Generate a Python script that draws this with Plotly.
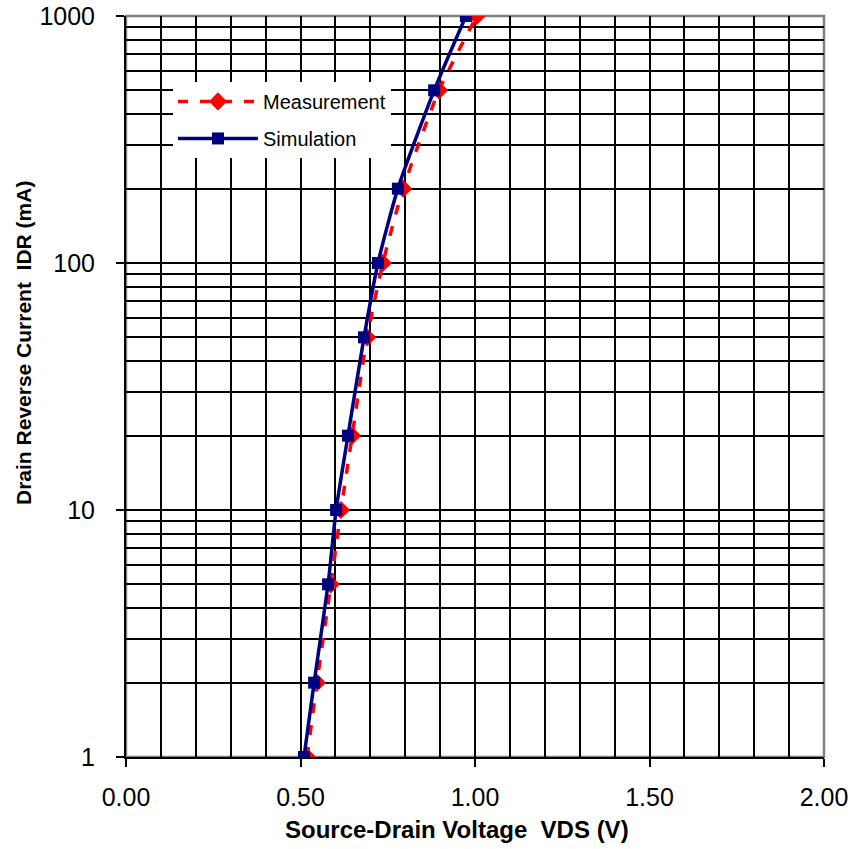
import plotly.graph_objects as go

# Data
current_ma = [1, 2, 5, 10, 20, 50, 100, 200, 500, 1000]
vds_meas = [0.519, 0.547, 0.587, 0.616, 0.648, 0.691, 0.736, 0.794, 0.897, 1.005]
vds_sim = [0.510, 0.539, 0.579, 0.602, 0.636, 0.682, 0.722, 0.779, 0.883, 0.974]

x_tickvals = [0, 0.5, 1.0, 1.5, 2.0]
y_tickvals = [1, 10, 100, 1000]
y_ticktext = ["1", "10", "100", "1000"]
y_minor = [m * d for d in (1, 10, 100) for m in range(2, 10)]

FONT = "Arial, Liberation Sans, sans-serif"

fig = go.Figure()
fig.add_trace(go.Scatter(
    x=vds_meas, y=current_ma, name="Measurement", mode="lines+markers",
    line=dict(color="#ff0000", width=3.5, dash="10px,12px", shape="spline", smoothing=0.6),
    marker=dict(symbol="diamond", size=14, color="#ff0000"),
    legendgroup="a",
))
fig.add_trace(go.Scatter(
    x=vds_sim, y=current_ma, name="Simulation", mode="lines+markers",
    line=dict(color="#000080", width=3.5, shape="spline", smoothing=0.6),
    marker=dict(symbol="square", size=12, color="#000080"),
    legendgroup="b",
))

grid = dict(color="black", width=1.5)

fig.update_layout(
    width=853, height=849,
    margin=dict(l=126, r=29, t=16, b=92, autoexpand=False),
    paper_bgcolor="white", plot_bgcolor="white",
    font=dict(family=FONT, color="black"),
    showlegend=True,
    legend=dict(
        x=0.0673, y=0.911, xanchor="left", yanchor="top",
        bgcolor="white", borderwidth=0,
        font=dict(size=20, family=FONT, color="black"),
        itemwidth=80, tracegroupgap=8,
    ),
    xaxis=dict(
        range=[0, 2], tickvals=x_tickvals, tickformat=".2f",
        showgrid=True, gridcolor=grid["color"], gridwidth=grid["width"],
        minor=dict(dtick=0.1, tick0=0, showgrid=True, gridcolor=grid["color"],
                   gridwidth=grid["width"], ticks=""),
        ticks="outside", ticklen=8, tickwidth=1.5, tickcolor="black",
        ticklabelstandoff=9, automargin=False,
        showline=True, linecolor="black", linewidth=2,
        tickfont=dict(size=25, family=FONT, color="black"),
        zeroline=False, fixedrange=True,
    ),
    yaxis=dict(
        type="log", range=[0, 3], tickvals=y_tickvals, ticktext=y_ticktext,
        showgrid=True, gridcolor=grid["color"], gridwidth=grid["width"],
        minor=dict(tickvals=y_minor, showgrid=True, gridcolor=grid["color"],
                   gridwidth=grid["width"], ticks=""),
        ticks="outside", ticklen=8, tickwidth=1.5, tickcolor="black",
        ticklabelstandoff=16, automargin=False,
        showline=True, linecolor="black", linewidth=2,
        tickfont=dict(size=25, family=FONT, color="black"),
        zeroline=False, fixedrange=True,
    ),
    shapes=[dict(type="rect", xref="paper", yref="paper", x0=0, x1=1, y0=0, y1=1,
                 line=dict(color="#808080", width=2.5), fillcolor="rgba(0,0,0,0)",
                 layer="between")],
    annotations=[
        dict(text="<b>Source-Drain Voltage  VDS (V)</b>", xref="paper", yref="paper",
             x=0.474, y=-0.0972, xanchor="center", yanchor="middle", showarrow=False,
             font=dict(size=24, family=FONT, color="black")),
        dict(text="<b>Drain Reverse Current  IDR (mA)</b>", xref="paper", yref="paper",
             x=-0.1476, y=0.5587, xanchor="center", yanchor="middle", textangle=-90,
             showarrow=False, font=dict(size=21, family=FONT, color="black")),
    ],
)

fig.write_html("out.html")
